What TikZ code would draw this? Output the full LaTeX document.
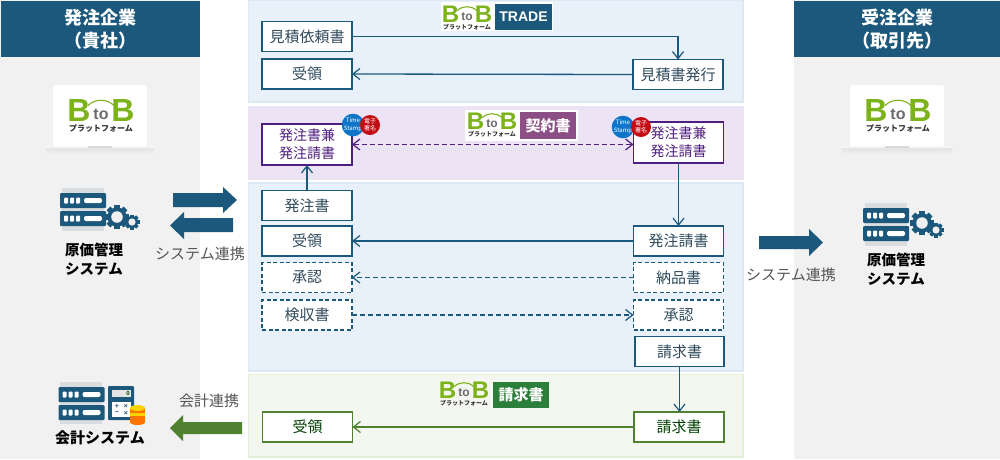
\documentclass[tikz,border=0pt]{standalone}
\usepackage{fontspec}
\setmainfont{Noto Sans CJK JP}
\newfontfamily\latinbold{Liberation Sans}
\usetikzlibrary{arrows.meta,calc}
\definecolor{navy}{HTML}{1B587C}
\definecolor{colbg}{HTML}{F1F1F1}
\definecolor{bluebg}{HTML}{E8F0F9}
\definecolor{blueln}{HTML}{DCE8F4}
\definecolor{purpbg}{HTML}{ECE3F4}
\definecolor{purpln}{HTML}{4F1F80}
\definecolor{purptag}{HTML}{8C4F85}
\definecolor{greenbg}{HTML}{F3F7EF}
\definecolor{greenln}{HTML}{E2EFD9}
\definecolor{greenbx}{HTML}{4F8130}
\definecolor{greentag}{HTML}{2C7F3A}
\definecolor{logogreen}{HTML}{7DB31A}
\definecolor{txtblue}{HTML}{2F4A5C}
\definecolor{txtgray}{HTML}{555555}
\definecolor{stampblue}{HTML}{0F75C8}
\definecolor{stampred}{HTML}{C30D13}
\definecolor{srvgray}{HTML}{DADDE0}
\tikzset{
  x=1pt,y=-1pt,
  barb/.tip={Straight Barb[length=7pt,width=11pt,line width=1.2pt]},
  basebox/.style={draw,fill=white,line width=1.3pt,minimum width=90pt,minimum height=30pt,inner sep=0pt,outer sep=0pt,font=\fontsize{15}{18}\selectfont,align=center},
  bluebox/.style={basebox,draw=navy,text=txtblue},
  dashbox/.style={bluebox,dash pattern=on 4pt off 2.5pt},
  purpbox/.style={basebox,draw=purpln,text=purpln,minimum height=41pt,font=\fontsize{14}{18}\selectfont},
  greenbox/.style={basebox,draw=greenbx,text=black!75!green},
  link/.style={line width=1.3pt,draw=navy,-barb},
  dashlink/.style={link,dash pattern=on 5pt off 3pt},
  purplink/.style={line width=1.3pt,draw=purpln,dash pattern=on 5pt off 3pt,barb-barb},
  greenlink/.style={line width=1.3pt,draw=greenbx,-barb},
  panel/.style={line width=1.5pt},
  head/.style={fill=navy,text=white,inner sep=0pt,outer sep=0pt,font=\bfseries\fontsize{18}{23}\selectfont,align=center,minimum width=199pt,minimum height=56pt},
  syslabel/.style={text=txtgray,font=\fontsize{15}{18}\selectfont,inner sep=0pt},
  sysname/.style={text=black,font=\bfseries\fontsize{14.5}{19}\selectfont,align=center,inner sep=0pt},
  tagbox/.style={text=white,inner sep=0pt,outer sep=0pt,font=\bfseries\fontsize{15}{18}\selectfont},
  stamp/.style={circle,minimum size=20pt,inner sep=0pt,text=white,align=center,font=\fontsize{6}{7.5}\selectfont},
  calckey/.style={inner sep=0pt,text=navy,font=\latinbold\bfseries\fontsize{7}{7}\selectfont},
}
% logo: origin is the top-left of the first B
\newcommand{\bblogo}[4]{%
\begin{scope}[shift={(#2,#3)},scale=#4,transform shape]
 \node[text=logogreen,font=\latinbold\bfseries\fontsize{32}{32}\selectfont,inner sep=0pt] (#1b1) at (10,12) {B};
 \node[text=logogreen,font=\latinbold\bfseries\fontsize{32}{32}\selectfont,inner sep=0pt] (#1b2) at (54,12) {B};
 \node[text=gray!85!black,font=\latinbold\bfseries\fontsize{16}{16}\selectfont,inner sep=0pt] (#1to) at (32,16) {to};
 \draw[logogreen,line width=1.1pt] (19,7.5) .. controls (26,0.5) and (38,0.5) .. (45,7.5);
 \node[text=black!80,font=\bfseries\fontsize{8}{8}\selectfont,inner sep=0pt] (#1pf) at (32,30) {プラットフォーム};
\end{scope}}
\newcommand{\laptop}[2]{% left of screen, top of screen
\begin{scope}[shift={(#1,#2)}]
 \fill[black!7] (-7,64) rectangle (101,69);
 \fill[white,draw=black!5,rounded corners=2pt] (0,0) rectangle (94,63);
 \fill[black!10,rounded corners=1.5pt] (-10,62) -- (104,62) -- (101,66) -- (-7,66) -- cycle;
 \fill[black!4] (-9,61) rectangle (103,63);
 \fill[black!15] (35,61) rectangle (59,62.5);
\end{scope}}
\newcommand{\srvbar}[2]{%
\fill[navy,rounded corners=1pt] (#1,#2) rectangle ++(46,15);
\foreach \d in {6,12,18}{\fill[white,rounded corners=.8pt] (#1+\d-1.8,#2+4.5) rectangle ++(3.8,6);}
\fill[white,rounded corners=2pt] (#1+24,#2+5) rectangle ++(18,5);}
\newcommand{\server}[2]{%
\fill[srvgray] (#1+2,#2-5) rectangle ++(42,43);
\srvbar{#1}{#2}\srvbar{#1}{#2+18}}
\newcommand{\gear}[3]{%
\foreach \a in {0,45,...,315}{\fill[navy,rotate around={\a:(#1,#2)}] (#1-0.22*#3,#2-#3) rectangle (#1+0.22*#3,#2+#3);}
\fill[navy] (#1,#2) circle[radius=0.8*#3];
\fill[black!6] (#1,#2) circle[radius=0.48*#3];}
\begin{document}
\begin{tikzpicture}
\useasboundingbox (0,0) rectangle (1000,459);
\fill[white] (0,0) rectangle (1000,459);
% columns
\fill[colbg] (0,0) rectangle (200,459);
\fill[colbg] (794,0) rectangle (1000,459);
\node[head,anchor=north west] (hl) at (1,1) {発注企業\\（貴社）};
\node[head,anchor=north west,minimum width=206pt] (hr) at (794,1) {受注企業\\（取引先）};
% panels
\fill[bluebg,draw=blueln,panel] (248.5,0) rectangle (743,102);
\fill[purpbg,draw=purpbg,panel] (249,107) rectangle (743,179);
\fill[bluebg,draw=blueln,panel] (248.5,183) rectangle (743,371);
\fill[greenbg,draw=greenln,panel] (248.5,374.5) rectangle (743,457);
% panel tags
\fill[white] (441,2) rectangle (553,31);
\bblogo{la}{443}{5}{0.75}
\node[tagbox,fill=navy,anchor=north west,minimum width=57pt,minimum height=26pt,font=\latinbold\bfseries\fontsize{14}{14}\selectfont] (ttrade) at (495,4) {TRADE};
\fill[white] (465,110) rectangle (578,141);
\bblogo{lb}{468}{112}{0.75}
\node[tagbox,fill=purptag,anchor=north west,minimum width=56pt,minimum height=27pt] (tkeiyaku) at (520,112) {契約書};
\bblogo{lc}{440}{381}{0.75}
\node[tagbox,fill=greentag,anchor=north west,minimum width=56pt,minimum height=26pt] (tseikyu) at (493,382) {請求書};
% boxes
\node[bluebox] (a1) at (307,36.5) {見積依頼書};
\node[bluebox] (a2) at (307,74) {受領};
\node[bluebox] (a3) at (678,74.5) {見積書発行};
\node[purpbox] (k1) at (307,144.5) {発注書兼\\発注請書};
\node[purpbox] (k2) at (678.5,142.5) {発注書兼\\発注請書};
\node[bluebox] (b1) at (307,205.5) {発注書};
\node[bluebox] (b2) at (307,241) {受領};
\node[dashbox] (b3) at (307,277.5) {承認};
\node[dashbox] (b4) at (307,315) {検収書};
\node[bluebox] (c1) at (678.5,241) {発注請書};
\node[dashbox] (c2) at (678.5,277.5) {納品書};
\node[dashbox] (c3) at (678.5,315) {承認};
\node[bluebox,minimum width=89pt] (c4) at (679.5,351.5) {請求書};
\node[greenbox] (g1) at (307.5,427) {受領};
\node[greenbox] (g2) at (679,427) {請求書};
% stamps
\node[stamp,fill=stampblue] (s1) at (353,125) {Time\\Stamp};
\node[stamp,fill=stampred] (s2) at (370,125) {電子\\署名};
\node[stamp,fill=stampblue] (s3) at (623,127) {Time\\Stamp};
\node[stamp,fill=stampred] (s4) at (641,127) {電子\\署名};
% connectors
\draw[link] (a1.east) -| (a3.north);
\draw[link] (a3.west) -- (a2.east);
\draw[purplink] (k1.east) -- (k2.west |- k1.east);
\draw[link] (b1.north) -- (k1.south);
\draw[link] (k2.south) -- (c1.north);
\draw[link] (c1.west) -- (b2.east);
\draw[dashlink] (c2.west) -- (b3.east);
\draw[dashlink] (b4.east) -- (c3.west);
\draw[link] (c4.south) -- (c4.south |- g2.north);
\draw[greenlink] (g2.west) -- (g1.east);
% laptops and logos
\laptop{53}{85}
\bblogo{ll}{69}{98}{1}
\laptop{850}{85}
\bblogo{lr}{866}{98}{1}
% system icons
\server{60}{193}
\gear{117}{217}{12}
\gear{132}{222}{7.5}
\node[sysname] (n1) at (94,259) {原価管理\\システム};
\server{863}{208}
\gear{922}{223}{12}
\gear{936}{230}{7.5}
\node[sysname] (n2) at (896,269) {原価管理\\システム};
% accounting icon
\fill[srvgray] (60,382) rectangle (102,424);
\srvbar{58.5}{387}
\srvbar{58.5}{405}
\fill[navy,rounded corners=1pt] (108,386) rectangle (134,420);
\fill[black!10] (112,390) rectangle (131,397);
\node[inner sep=0pt,text=black!70!green,font=\latinbold\bfseries\fontsize{6}{6}\selectfont] (cd) at (128,393.5) {0};
\fill[white] (112,402) rectangle (131,417);
\node[calckey] (k1a) at (117,406) {+};
\node[calckey] (k1b) at (126,406) {×};
\node[calckey] (k1c) at (117,413) {−};
\node[calckey] (k1d) at (126,413) {×};
\fill[orange!90!red] (130,408) rectangle (145,422);
\fill[orange!90!red] (137.5,422) ellipse[x radius=7.5,y radius=3];
\fill[yellow!70!orange] (137.5,408) ellipse[x radius=7.5,y radius=3];
\fill[yellow!70!orange] (130,412.5) rectangle (145,415.5);
\node[sysname,font=\bfseries\fontsize{15}{19}\selectfont] (n3) at (100,438) {会計システム};
% big arrows
\fill[navy] (173,193) -- (223,193) -- (223,187) -- (237,200) -- (223,213) -- (223,207) -- (173,207) -- cycle;
\fill[navy] (233,218) -- (184,218) -- (184,212) -- (170,225.5) -- (184,239) -- (184,232) -- (233,232) -- cycle;
\fill[navy] (759,236) -- (809,236) -- (809,229) -- (823,242.5) -- (809,256) -- (809,249) -- (759,249) -- cycle;
\fill[greenbx] (242,422) -- (183,422) -- (183,415) -- (170,428) -- (183,441) -- (183,434) -- (242,434) -- cycle;
\node[syslabel] (l1) at (200,254) {システム連携};
\node[syslabel] (l2) at (791,275) {システム連携};
\node[syslabel] (l3) at (209,401) {会計連携};
\end{tikzpicture}
\end{document}
